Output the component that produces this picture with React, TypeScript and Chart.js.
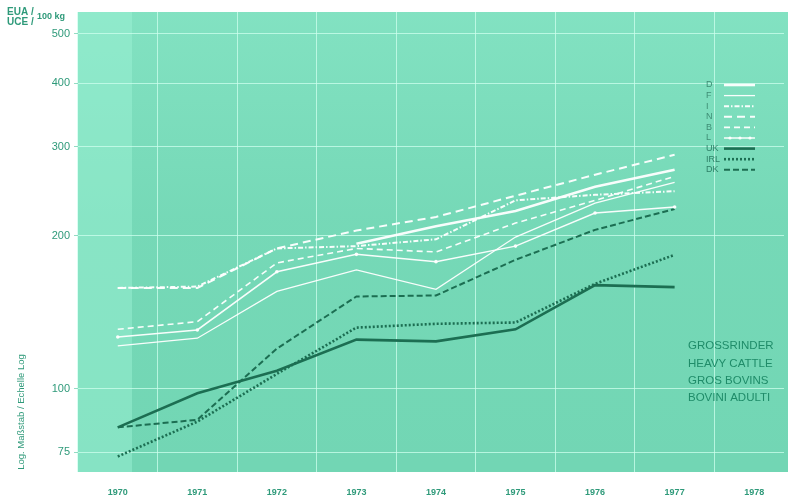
import React, { useEffect, useRef } from "react";
import { Chart, registerables } from "chart.js";

Chart.register(...registerables);

// ---- data ----
const years = [1970, 1971, 1972, 1973, 1974, 1975, 1976, 1977];
const xTickYears = [1970, 1971, 1972, 1973, 1974, 1975, 1976, 1977, 1978];
const yTicks = [75, 100, 200, 300, 400, 500];

const seriesD = [null, null, null, 193, 209, 224, 250, 270];
const seriesF = [121.5, 125.8, 155.5, 171.5, 157, 199, 232, 255];
const seriesI = [158, 159, 189, 191, 197, 235, 241, 245];
const seriesN = [158, 158, 189, 205, 218, 240, 264, 289];
const seriesB = [131, 135.6, 177, 189, 186, 212, 235, 262];
const seriesL = [126.5, 130.6, 170, 184, 178, 191, 222, 228];
const seriesUK = [84, 98, 108.6, 125, 124, 131, 160, 158.6];
const seriesIRL = [73.6, 86.2, 107, 132, 134.3, 135.1, 161, 183.6];
const seriesDK = [84, 86.9, 120, 152, 152.7, 179.5, 205.6, 226];

const legendLabels = ["D", "F", "I", "N", "B", "L", "UK", "IRL", "DK"];
const titleLines = ["GROSSRINDER", "HEAVY CATTLE", "GROS BOVINS", "BOVINI ADULTI"];

const WHITE = "rgba(255,255,255,0.95)";
const DARK = "#1c6e52";
const TEXT = "#2f9a7a";
const FONT = "'Liberation Sans', Arial, sans-serif";

const pts = (arr: (number | null)[]) => years.map((x, i) => ({ x, y: arr[i] }));

export default function App() {
  const ref = useRef<HTMLCanvasElement | null>(null);

  useEffect(() => {
    if (!ref.current) return;

    const bgPlugin = {
      id: "bg",
      beforeDraw(chart: any) {
        const { ctx, chartArea: a } = chart;
        const right = chart.width;
        ctx.save();
        ctx.fillStyle = "#72d6b4";
        ctx.fillRect(a.left, a.top, right - a.left, a.bottom - a.top);
        const g = ctx.createLinearGradient(0, a.top, 0, a.bottom);
        g.addColorStop(0, "rgba(150,240,210,0.45)");
        g.addColorStop(0.45, "rgba(150,240,210,0.1)");
        g.addColorStop(1, "rgba(150,240,210,0.0)");
        ctx.fillStyle = g;
        ctx.fillRect(a.left, a.top, right - a.left, a.bottom - a.top);
        ctx.fillStyle = "rgba(160,245,215,0.45)";
        ctx.fillRect(a.left, a.top, 54, a.bottom - a.top);
        ctx.restore();
      },
    };

    const textPlugin = {
      id: "texts",
      afterDraw(chart: any) {
        const { ctx } = chart;
        ctx.save();
        ctx.fillStyle = TEXT;
        ctx.textBaseline = "middle";
        ctx.textAlign = "left";
        ctx.font = `bold 10px ${FONT}`;
        ctx.fillText("EUA /", 7, 12);
        ctx.fillText("UCE /", 7, 22);
        ctx.font = `bold 9px ${FONT}`;
        ctx.fillText("100 kg", 37, 17);

        // rotated axis note
        ctx.save();
        ctx.translate(21, 412);
        ctx.rotate(-Math.PI / 2);
        ctx.textAlign = "center";
        ctx.font = `9.5px ${FONT}`;
        ctx.fillText("Log. Maßstab / Echelle Log", 0, 0);
        ctx.restore();

        // title block
        ctx.fillStyle = "#1f8c69";
        ctx.font = `11.5px ${FONT}`;
        titleLines.forEach((t, i) => ctx.fillText(t, 688, 346 + i * 17.4));

        // legend
        const ds = chart.data.datasets;
        legendLabels.forEach((lab, i) => {
          const y = 85 + i * 10.6;
          ctx.fillStyle = i >= 6 ? "#2d7f66" : "#3e8d74";
          ctx.font = `9px ${FONT}`;
          ctx.textAlign = "left";
          ctx.fillText(lab, 706, y);
          const d = ds[i];
          ctx.beginPath();
          ctx.strokeStyle = d.borderColor;
          ctx.lineWidth = d.borderWidth;
          ctx.setLineDash(d.borderDash || []);
          ctx.moveTo(724, y);
          ctx.lineTo(755, y);
          ctx.stroke();
          ctx.setLineDash([]);
          if (d.pointRadius > 0) {
            ctx.fillStyle = d.borderColor;
            [730, 740, 750].forEach((px) => {
              ctx.beginPath();
              ctx.arc(px, y, 1.6, 0, Math.PI * 2);
              ctx.fill();
            });
          }
        });
        ctx.restore();
      },
    };

    const mk = (label: string, arr: (number | null)[], color: string, width: number, dash: number[], pr = 0) => ({
      label,
      data: pts(arr),
      borderColor: color,
      backgroundColor: color,
      borderWidth: width,
      borderDash: dash,
      pointRadius: pr,
      pointBorderWidth: 0,
      tension: 0,
      spanGaps: false,
    });

    const chart = new Chart(ref.current, {
      type: "line",
      data: {
        datasets: [
          mk("D", seriesD, WHITE, 2.6, []),
          mk("F", seriesF, WHITE, 1.3, []),
          mk("I", seriesI, WHITE, 2, [5, 2, 1.5, 2]),
          mk("N", seriesN, WHITE, 2, [8, 5]),
          mk("B", seriesB, WHITE, 1.6, [6, 4]),
          mk("L", seriesL, WHITE, 1.5, [], 1.8),
          mk("UK", seriesUK, DARK, 2.6, []),
          mk("IRL", seriesIRL, DARK, 2.6, [2, 2]),
          mk("DK", seriesDK, DARK, 2, [6, 3]),
        ] as any,
      },
      options: {
        animation: false,
        responsive: true,
        maintainAspectRatio: false,
        layout: { padding: { top: 12, right: 0, left: 0, bottom: 0 } },
        plugins: { legend: { display: false }, tooltip: { enabled: false } },
        scales: {
          x: {
            type: "linear",
            min: 1969.5,
            max: 1978.375,
            afterBuildTicks: (s: any) => {
              s.ticks = xTickYears.map((v) => ({ value: v }));
            },
            afterFit: (s: any) => {
              s.height = 28;
            },
            border: { display: false },
            grid: {
              offset: true,
              color: "rgba(205,255,238,0.75)",
              lineWidth: 1,
              drawTicks: false,
            },
            ticks: {
              autoSkip: false,
              maxRotation: 0,
              padding: 15,
              color: TEXT,
              font: { family: FONT, size: 9, weight: "bold" },
              callback: (v: any) => String(v),
            },
          },
          y: {
            type: "logarithmic",
            min: 68.6,
            max: 552,
            afterBuildTicks: (s: any) => {
              s.ticks = yTicks.map((v) => ({ value: v }));
            },
            afterFit: (s: any) => {
              s.width = 78;
            },
            border: { display: false },
            grid: {
              color: "rgba(205,255,238,0.75)",
              lineWidth: 1,
              tickLength: 4,
              tickColor: "rgba(120,210,180,0.8)",
            },
            ticks: {
              autoSkip: false,
              padding: 4,
              color: TEXT,
              font: { family: FONT, size: 11 },
              callback: (v: any) => String(v),
            },
          },
        },
      } as any,
      plugins: [bgPlugin, textPlugin],
    });

    return () => chart.destroy();
  }, []);

  return (
    <div style={{ position: "absolute", left: 0, top: 0, width: 788, height: 500, background: "#ffffff" }}>
      <canvas ref={ref} />
    </div>
  );
}
